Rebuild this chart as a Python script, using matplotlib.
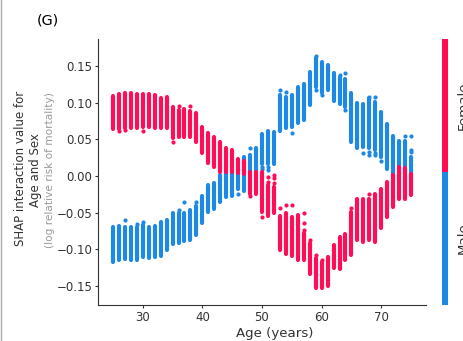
import matplotlib
matplotlib.use("Agg")
import matplotlib.pyplot as plt
import numpy as np
from matplotlib.colors import ListedColormap, Normalize
from matplotlib.cm import ScalarMappable
from matplotlib.lines import Line2D

# SHAP interaction values (Age x Sex), per age: column top / bottom
ages = np.arange(25, 76)

female_hi = [0.109, 0.112, 0.113, 0.113, 0.112, 0.112, 0.112, 0.110, 0.106, 0.108,
             0.094, 0.090, 0.092, 0.089, 0.086, 0.067, 0.059, 0.053, 0.046, 0.038,
             0.036, 0.023, 0.020, 0.006, 0.006, 0.006, -0.012, -0.015, -0.055, -0.051,
             -0.056, -0.053, -0.078, -0.092, -0.112, -0.117, -0.111, -0.094, -0.083, -0.079,
             -0.049, -0.032, -0.032, -0.032, -0.025, -0.018, -0.008, 0.001, 0.013, 0.011,
             0.003]
female_lo = [0.064, 0.064, 0.066, 0.066, 0.066, 0.067, 0.067, 0.065, 0.065, 0.066,
             0.052, 0.053, 0.053, 0.053, 0.046, 0.031, 0.018, 0.013, 0.006, 0.005,
             0.005, 0.004, 0.003, -0.024, -0.024, -0.049, -0.054, -0.051, -0.101, -0.106,
             -0.109, -0.115, -0.115, -0.134, -0.153, -0.153, -0.150, -0.126, -0.127, -0.115,
             -0.108, -0.087, -0.090, -0.087, -0.090, -0.071, -0.056, -0.042, -0.032, -0.032,
             -0.026]

male_hi = [-0.069, -0.068, -0.069, -0.070, -0.069, -0.067, -0.069, -0.068, -0.063, -0.060,
           -0.051, -0.050, -0.051, -0.047, -0.041, -0.027, -0.012, -0.009, 0.001, 0.004,
           0.005, 0.004, 0.026, 0.029, 0.038, 0.058, 0.061, 0.060, 0.111, 0.108,
           0.111, 0.122, 0.125, 0.142, 0.161, 0.156, 0.152, 0.140, 0.135, 0.133,
           0.113, 0.100, 0.098, 0.106, 0.101, 0.088, 0.071, 0.055, 0.048, 0.048,
           0.026]
male_lo = [-0.117, -0.115, -0.113, -0.114, -0.114, -0.110, -0.112, -0.111, -0.109, -0.101,
           -0.093, -0.091, -0.089, -0.087, -0.081, -0.064, -0.049, -0.045, -0.036, -0.029,
           -0.027, -0.018, -0.021, 0.006, 0.006, 0.017, 0.017, 0.017, 0.062, 0.065,
           0.067, 0.073, 0.077, 0.097, 0.122, 0.113, 0.117, 0.102, 0.098, 0.094,
           0.047, 0.038, 0.039, 0.038, 0.036, 0.026, 0.010, 0.001, 0.013, 0.009,
           0.001]

# stray points outside the dense part of each column
female_dot_age = [26, 27, 30, 35, 36, 38, 48, 50, 51, 51, 52, 52, 52,
                  53, 54, 55, 57, 57, 57, 58, 59, 60, 65, 68]
female_dot_val = [0.062, 0.063, 0.062, 0.047, 0.095, 0.096, -0.027, -0.056, -0.001, -0.008,
                  0.002, -0.003, -0.010, -0.043, -0.039, -0.040, -0.051, -0.064, -0.074,
                  -0.087, -0.108, -0.114, -0.043, -0.025]
male_dot_age = [27, 29, 30, 36, 37, 39, 46, 48, 50, 50, 51, 51, 53, 54, 55,
                59, 59, 60, 63, 64, 64, 67, 68, 68, 68, 69, 69, 69, 70, 74, 75, 75, 75]
male_dot_val = [-0.060, -0.065, -0.063, -0.047, -0.036, -0.036, -0.024, 0.038, 0.013, 0.010,
                0.013, 0.008, 0.117, 0.114, 0.059, 0.164, 0.118, 0.111, 0.138, 0.140,
                0.090, 0.032, 0.108, 0.033, 0.029, 0.108, 0.032, 0.029, 0.020, 0.055,
                0.055, 0.036, 0.033]

blue = "#1E88E5"
red = "#FF0D57"
axis_color = "#333333"

fig = plt.figure(figsize=(4.64, 3.41), dpi=100)
W, H = 464, 341
ax = fig.add_axes([98 / W, 1 - 305 / H, (426 - 98) / W, (305 - 39) / H])

col_w = 3.0
ax.vlines(ages, male_lo, male_hi, color=blue, lw=col_w, capstyle="round")
ax.scatter(male_dot_age, male_dot_val, s=9, color=blue, linewidths=0)
ax.vlines(ages, female_lo, female_hi, color=red, lw=col_w, capstyle="round")
ax.scatter(female_dot_age, female_dot_val, s=9, color=red, linewidths=0)

ax.set_xlim(22.5, 77.5)
ax.set_ylim(-0.176, 0.187)
ax.set_xticks([30, 40, 50, 60, 70])
ax.set_yticks([-0.15, -0.10, -0.05, 0.00, 0.05, 0.10, 0.15])
ax.set_yticklabels(["\u22120.15", "\u22120.10", "\u22120.05", "0.00", "0.05", "0.10", "0.15"])
for side in ["top", "right"]:
    ax.spines[side].set_visible(False)
for side in ["left", "bottom"]:
    ax.spines[side].set_color(axis_color)
ax.tick_params(axis="both", colors=axis_color, labelcolor=axis_color,
               labelsize=8.5, length=2.5, width=0.8)
ax.tick_params(axis="y", pad=1.5)
ax.tick_params(axis="x", pad=2)

# axis labels
fig.text(274.5 / W, 1 - 337 / H, "Age (years)", ha="center", va="baseline",
         fontsize=9.6, color=axis_color)
fig.text(21 / W, 1 - 168 / H, "SHAP interaction value for", rotation=90,
         ha="center", va="center", fontsize=8.5, color=axis_color)
fig.text(35.5 / W, 1 - 170 / H, "Age and Sex", rotation=90,
         ha="center", va="center", fontsize=8.5, color=axis_color)
fig.text(50 / W, 1 - 170 / H, "(log relative risk of mortality)", rotation=90,
         ha="center", va="center", fontsize=7.6, color="#999999")

fig.text(37 / W, 1 - 21 / H, "(G)", ha="left", va="center", fontsize=10.4, color="black")

# two-colour bar for Sex
cax = fig.add_axes([441.7 / W, 1 - 305 / H, 6.3 / W, (305 - 39) / H])
sm = ScalarMappable(norm=Normalize(0, 1), cmap=ListedColormap([blue, red]))
cb = fig.colorbar(sm, cax=cax)
cb.set_ticks([0.25, 0.75])
cb.set_ticklabels(["Male", "Female"])
cb.outline.set_visible(False)
cax.tick_params(length=0, pad=6, labelsize=9.6, labelcolor=axis_color)
for t in cax.get_yticklabels():
    t.set_rotation(90)
    t.set_va("center")

# panel border on the left edge
fig.add_artist(Line2D([1.5 / W, 1.5 / W], [0, 1], transform=fig.transFigure,
                      color="#aaaaaa", lw=1))

fig.savefig("out.png", dpi=100)
